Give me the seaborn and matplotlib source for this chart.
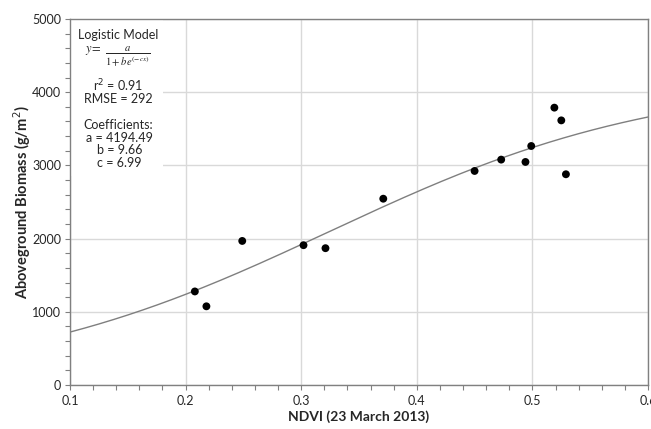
"""
NDVI vs aboveground biomass with fitted logistic model.
"""

import numpy as np
import pandas as pd
import matplotlib
matplotlib.use('Agg')
import matplotlib.pyplot as plt
from matplotlib.patches import Rectangle
from matplotlib.ticker import MultipleLocator
import seaborn as sns

# Observed points
ndvi = [0.208, 0.218, 0.249, 0.302, 0.321, 0.371, 0.450,
        0.473, 0.494, 0.499, 0.519, 0.525, 0.529]
biomass = [1278, 1075, 1968, 1910, 1869, 2545, 2924,
           3079, 3047, 3265, 3789, 3615, 2879]

# Fitted model coefficients (shown in the chart)
coef_a = 4194.49
coef_b = 9.66
coef_c = 6.99
r2_text = 'r$^2$ = 0.91'
rmse_text = 'RMSE = 292'

X_LIM = (0.1, 0.6)
Y_LIM = (0, 5000)

GRID_COLOR = '#d9d9d9'
SPINE_COLOR = '#808080'
TEXT_COLOR = '#262626'

sns.set_style('white')
plt.rcParams['font.family'] = ['Lato', 'DejaVu Sans']

df = pd.DataFrame({'ndvi': ndvi, 'biomass': biomass})
curve_x = np.linspace(X_LIM[0], X_LIM[1], 200)
curve = pd.DataFrame({
    'ndvi': curve_x,
    'biomass': coef_a / (1 + coef_b * np.exp(-coef_c * curve_x)),
})

fig = plt.figure(figsize=(6.51, 4.29), dpi=100)
ax = fig.add_axes([70 / 651, 44 / 429, 578 / 651, 366 / 429])

sns.lineplot(data=curve, x='ndvi', y='biomass', ax=ax,
             color='#7f7f7f', lw=1.0, zorder=2)
sns.scatterplot(data=df, x='ndvi', y='biomass', ax=ax,
                color='black', s=32, edgecolor='none', zorder=3)

ax.set_xlim(*X_LIM)
ax.set_ylim(*Y_LIM)
ax.xaxis.set_minor_locator(MultipleLocator(0.02))
ax.yaxis.set_major_locator(MultipleLocator(1000))
ax.yaxis.set_minor_locator(MultipleLocator(200))
ax.set_xticks(np.arange(0.1, 0.61, 0.1))
ax.set_xticklabels(['0.1', '0.2', '0.3', '0.4', '0.5', '0.6'])

ax.set_axisbelow(True)
ax.grid(True, which='major', color=GRID_COLOR, lw=1.0)
for sp in ax.spines.values():
    sp.set_color(SPINE_COLOR)
    sp.set_linewidth(1.0)

ax.tick_params(which='both', direction='out', length=3.5, width=0.8,
               color=SPINE_COLOR, labelsize=9, labelcolor=TEXT_COLOR,
               bottom=True, left=True, pad=3)
ax.tick_params(axis='x', pad=4)

ax.set_xlabel('NDVI (23 March 2013)', fontsize=10, fontweight='bold',
              color=TEXT_COLOR)
ax.set_ylabel('Aboveground Biomass (g/m$^2$)', fontsize=10.5,
              fontweight='bold', color=TEXT_COLOR)
ax.xaxis.set_label_coords(0.5, -0.086)
ax.xaxis.label.set_va('center')
ax.yaxis.set_label_coords(-0.083, 0.5)
ax.yaxis.label.set_va('center')

# White box behind the model text
ax.add_patch(Rectangle((0, 0.57), 0.161, 0.43, transform=ax.transAxes,
                       facecolor='white', edgecolor='none', zorder=1))

cx = 0.083
txt = dict(transform=ax.transAxes, ha='center', va='center',
           fontsize=9, color=TEXT_COLOR, zorder=4)
ax.text(cx, 0.956, 'Logistic Model', **txt)
ax.text(0.040, 0.915, '$y\\!=$', transform=ax.transAxes, ha='center',
        va='center', fontsize=9, color=TEXT_COLOR, math_fontfamily='stix',
        zorder=4)
ax.text(0.100, 0.896, '$\\frac{a}{1+be^{(-cx)}}$', transform=ax.transAxes,
        ha='center', va='center', fontsize=11, color=TEXT_COLOR,
        math_fontfamily='stix', zorder=4)
ax.text(cx, 0.817, r2_text, **txt)
ax.text(cx, 0.781, rmse_text, **txt)
ax.text(cx, 0.710, 'Coefficients:', **txt)
ax.text(0.086, 0.676, f'a = {coef_a:.2f}', **txt)
ax.text(0.086, 0.641, f'b = {coef_b:.2f}', **txt)
ax.text(0.086, 0.606, f'c = {coef_c:.2f}', **txt)

fig.savefig('out.png', dpi=100)
plt.close(fig)
